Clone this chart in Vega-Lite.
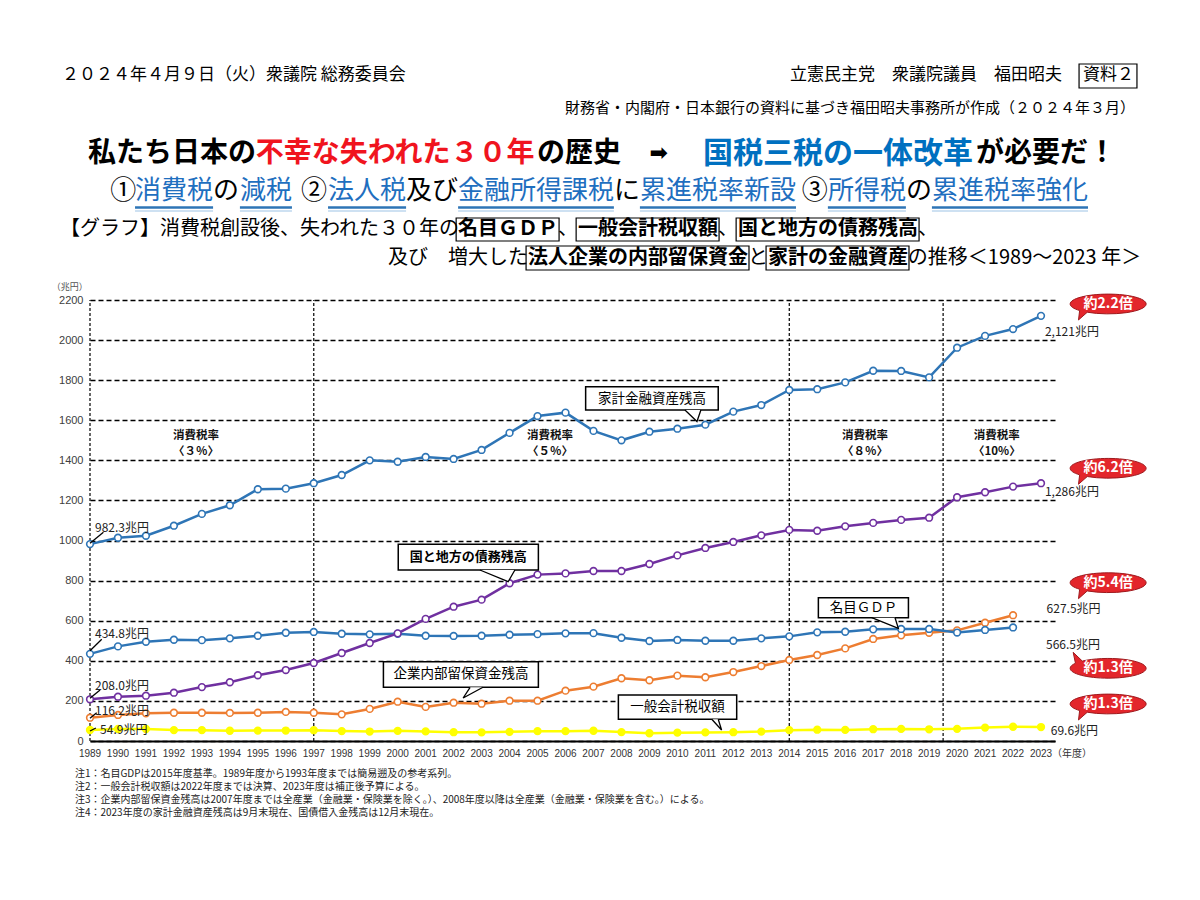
{
  "$schema": "https://vega.github.io/schema/vega-lite/v6.json",
  "autosize": {"type": "none"},
  "width": 965,
  "height": 441,
  "padding": {"left": 90, "top": 300, "right": 145, "bottom": 159},
  "background": "white",
  "config": {"view": {"stroke": null}, "font": "Noto Sans CJK JP"},
  "datasets": {
    "wide": [
      {"year": 1989, "household": 982.3, "debt": 208.0, "gdp": 434.8, "retained": 116.2, "tax": 54.9},
      {"year": 1990, "household": 1014, "debt": 221, "gdp": 472, "retained": 130, "tax": 60.1},
      {"year": 1991, "household": 1024, "debt": 226, "gdp": 495, "retained": 138, "tax": 59.8},
      {"year": 1992, "household": 1074, "debt": 241, "gdp": 505, "retained": 141, "tax": 54.4},
      {"year": 1993, "household": 1133, "debt": 269, "gdp": 503, "retained": 141, "tax": 54.1},
      {"year": 1994, "household": 1176, "debt": 293, "gdp": 512, "retained": 140, "tax": 51.0},
      {"year": 1995, "household": 1256, "debt": 328, "gdp": 525, "retained": 141, "tax": 51.9},
      {"year": 1996, "household": 1259, "debt": 354, "gdp": 540, "retained": 145, "tax": 52.1},
      {"year": 1997, "household": 1286, "debt": 389, "gdp": 544, "retained": 141, "tax": 53.9},
      {"year": 1998, "household": 1327, "debt": 439, "gdp": 535, "retained": 133, "tax": 49.4},
      {"year": 1999, "household": 1400, "debt": 489, "gdp": 532, "retained": 160, "tax": 47.2},
      {"year": 2000, "household": 1393, "debt": 537, "gdp": 535, "retained": 196, "tax": 50.7},
      {"year": 2001, "household": 1417, "debt": 609, "gdp": 525, "retained": 170, "tax": 47.9},
      {"year": 2002, "household": 1407, "debt": 670, "gdp": 524, "retained": 191, "tax": 43.8},
      {"year": 2003, "household": 1452, "debt": 705, "gdp": 525, "retained": 186, "tax": 43.3},
      {"year": 2004, "household": 1537, "debt": 787, "gdp": 530, "retained": 201, "tax": 45.6},
      {"year": 2005, "household": 1621, "debt": 830, "gdp": 533, "retained": 201, "tax": 49.1},
      {"year": 2006, "household": 1638, "debt": 836, "gdp": 537, "retained": 251, "tax": 49.1},
      {"year": 2007, "household": 1547, "debt": 848, "gdp": 538, "retained": 271, "tax": 51.0},
      {"year": 2008, "household": 1500, "debt": 848, "gdp": 515, "retained": 313, "tax": 44.3},
      {"year": 2009, "household": 1543, "debt": 883, "gdp": 499, "retained": 303, "tax": 38.7},
      {"year": 2010, "household": 1558, "debt": 926, "gdp": 504, "retained": 326, "tax": 41.5},
      {"year": 2011, "household": 1578, "debt": 963, "gdp": 500, "retained": 318, "tax": 42.8},
      {"year": 2012, "household": 1643, "debt": 993, "gdp": 500, "retained": 344, "tax": 43.9},
      {"year": 2013, "household": 1676, "debt": 1026, "gdp": 512, "retained": 374, "tax": 47.0},
      {"year": 2014, "household": 1751, "debt": 1053, "gdp": 522, "retained": 404, "tax": 54.0},
      {"year": 2015, "household": 1755, "debt": 1049, "gdp": 542, "retained": 429, "tax": 56.3},
      {"year": 2016, "household": 1789, "debt": 1071, "gdp": 545, "retained": 462, "tax": 55.5},
      {"year": 2017, "household": 1847, "debt": 1088, "gdp": 557, "retained": 509, "tax": 58.8},
      {"year": 2018, "household": 1846, "debt": 1103, "gdp": 559, "retained": 527, "tax": 60.4},
      {"year": 2019, "household": 1814, "debt": 1114, "gdp": 559, "retained": 540, "tax": 58.4},
      {"year": 2020, "household": 1962, "debt": 1216, "gdp": 541, "retained": 552, "tax": 60.8},
      {"year": 2021, "household": 2021, "debt": 1241, "gdp": 554, "retained": 590, "tax": 67.0},
      {"year": 2022, "household": 2055, "debt": 1269, "gdp": 566.5, "retained": 627.5, "tax": 71.1},
      {"year": 2023, "household": 2121, "debt": 1286, "gdp": null, "retained": null, "tax": 69.6}
    ],
    "dividers": [{"year": 1989}, {"year": 1997}, {"year": 2014}, {"year": 2019.5}],
    "hdr": [
      {"label": "２０２４年４月９日（火）衆議院 総務委員会", "year": 1988.0, "value": 3322.5},
      {"label": "立憲民主党　衆議院議員　福田昭夫", "year": 2014.03, "value": 3322.5},
      {"label": "資料２", "year": 2024.50, "value": 3322.5}
    ],
    "src": [
      {"label": "財務省・内閣府・日本銀行の資料に基づき福田昭夫事務所が作成（２０２４年３月）", "year": 2026.36, "value": 3157.8}
    ],
    "title": [
      {"label": "私たち日本の", "year": 1988.93, "value": 2928.4, "role": "plain"},
      {"label": "不幸な失われた３０年", "year": 1994.93, "value": 2928.4, "role": "alarm"},
      {"label": "の歴史", "year": 2004.98, "value": 2928.4, "role": "plain"},
      {"label": "が必要だ！", "year": 2020.68, "value": 2928.4, "role": "plain"}
    ],
    "titleBlue": [
      {"label": "国税三税の一体改革", "year": 2010.92, "value": 2928.4}
    ],
    "arrow": [{"label": "➡", "year": 2009.0, "value": 2933.4}],
    "policy": [
      {"label": "①", "year": 1989.72, "value": 2743.8, "role": "plain"},
      {"label": "消費税", "year": 1990.61, "value": 2743.8, "role": "policy"},
      {"label": "の", "year": 1993.40, "value": 2743.8, "role": "plain"},
      {"label": "減税", "year": 1994.36, "value": 2743.8, "role": "policy"},
      {"label": "②", "year": 1996.54, "value": 2743.8, "role": "plain"},
      {"label": "法人税", "year": 1997.51, "value": 2743.8, "role": "policy"},
      {"label": "及び", "year": 2000.30, "value": 2743.8, "role": "plain"},
      {"label": "金融所得課税", "year": 2002.16, "value": 2743.8, "role": "policy"},
      {"label": "に", "year": 2007.73, "value": 2743.8, "role": "plain"},
      {"label": "累進税率新設", "year": 2008.66, "value": 2743.8, "role": "policy"},
      {"label": "③", "year": 2014.45, "value": 2743.8, "role": "plain"},
      {"label": "所得税", "year": 2015.38, "value": 2743.8, "role": "policy"},
      {"label": "の", "year": 2018.17, "value": 2743.8, "role": "plain"},
      {"label": "累進税率強化", "year": 2019.10, "value": 2743.8, "role": "policy"}
    ],
    "underline": [
      {"year": 1990.61, "year2": 1993.40},
      {"year": 1994.36, "year2": 1996.22},
      {"year": 1997.51, "year2": 2000.30},
      {"year": 2002.16, "year2": 2007.73},
      {"year": 2008.66, "year2": 2014.24},
      {"year": 2015.38, "year2": 2018.17},
      {"year": 2019.10, "year2": 2024.68}
    ],
    "intro": [
      {"label": "【グラフ】消費税創設後、失われた３０年の", "year": 1987.93, "value": 2554.2},
      {"label": "、", "year": 2005.73, "value": 2554.2},
      {"label": "、", "year": 2011.45, "value": 2554.2},
      {"label": "、", "year": 2018.60, "value": 2554.2},
      {"label": "及び　増大した", "year": 1999.65, "value": 2409.5},
      {"label": "と", "year": 2012.52, "value": 2409.5},
      {"label": "の推移＜1989～2023 年＞", "year": 2018.24, "value": 2409.5}
    ],
    "introBold": [
      {"label": "名目ＧＤＰ", "year": 2002.16, "value": 2554.2},
      {"label": "一般会計税収額", "year": 2006.45, "value": 2554.2},
      {"label": "国と地方の債務残高", "year": 2012.17, "value": 2554.2},
      {"label": "法人企業の内部留保資金", "year": 2004.66, "value": 2409.5},
      {"label": "家計の金融資産", "year": 2013.24, "value": 2409.5}
    ],
    "introBox": [
      {"year": 2002.09, "year2": 2005.77, "value": 2609.1, "value2": 2494.4},
      {"year": 2006.38, "year2": 2011.49, "value": 2609.1, "value2": 2494.4},
      {"year": 2012.10, "year2": 2018.64, "value": 2609.1, "value2": 2494.4},
      {"year": 2004.59, "year2": 2012.56, "value": 2469.4, "value2": 2349.7},
      {"year": 2013.17, "year2": 2018.28, "value": 2469.4, "value2": 2349.7},
      {"year": 2024.36, "year2": 2026.43, "value": 3377.4, "value2": 3257.6}
    ],
    "callBox": [
      {"year": 2006.72, "year2": 2011.46, "value": 1767.5, "value2": 1651.3},
      {"year": 2000.02, "year2": 2005.03, "value": 981.3, "value2": 853.1},
      {"year": 1999.49, "year2": 2005.03, "value": 395.6, "value2": 267.9},
      {"year": 2007.89, "year2": 2012.12, "value": 229.5, "value2": 108.3},
      {"year": 2015.04, "year2": 2018.26, "value": 714.9, "value2": 615.1}
    ],
    "callText": [
      {"label": "家計金融資産残高", "year": 2009.09, "value": 1708.6},
      {"label": "企業内部留保資金残高", "year": 2002.26, "value": 331.8},
      {"label": "一般会計税収額", "year": 2010.0, "value": 169.6},
      {"label": "名目ＧＤＰ", "year": 2016.65, "value": 665.0}
    ],
    "callTextBold": [
      {"label": "国と地方の債務残高", "year": 2002.52, "value": 917.9}
    ],
    "tails": [
      {"id": "a", "ord": 1, "year": 2010.27, "value": 1651.3},
      {"id": "a", "ord": 2, "year": 2010.70, "value": 1593.9},
      {"id": "a", "ord": 3, "year": 2010.84, "value": 1651.3},
      {"id": "b", "ord": 1, "year": 2002.94, "value": 853.1},
      {"id": "b", "ord": 2, "year": 2003.95, "value": 794.7},
      {"id": "b", "ord": 3, "year": 2004.19, "value": 853.1},
      {"id": "c", "ord": 1, "year": 2003.05, "value": 267.9},
      {"id": "c", "ord": 2, "year": 2002.34, "value": 214.5},
      {"id": "c", "ord": 3, "year": 2002.59, "value": 267.9},
      {"id": "d", "ord": 1, "year": 2011.23, "value": 108.3},
      {"id": "d", "ord": 2, "year": 2011.58, "value": 54.9},
      {"id": "d", "ord": 3, "year": 2011.46, "value": 108.3},
      {"id": "e", "ord": 1, "year": 2016.95, "value": 615.1},
      {"id": "e", "ord": 2, "year": 2017.90, "value": 562.2},
      {"id": "e", "ord": 3, "year": 2017.78, "value": 615.1}
    ],
    "leaders": [
      {"year": 1989.48, "value": 1041.1, "year2": 1989, "value2": 986.3},
      {"year": 1989.42, "value": 507.3, "year2": 1989, "value2": 450.5},
      {"year": 1989.36, "value": 254.4, "year2": 1989, "value2": 213.0},
      {"year": 1989.24, "value": 141.2, "year2": 1989, "value2": 113.2},
      {"year": 1989.21, "value": 64.9, "year2": 1989, "value2": 49.9}
    ],
    "valueLabels": [
      {"label": "982.3兆円", "year": 1989.18, "value": 1064.3},
      {"label": "434.8兆円", "year": 1989.18, "value": 532.2},
      {"label": "208.0兆円", "year": 1989.18, "value": 274.4},
      {"label": "116.2兆円", "year": 1989.18, "value": 149.7},
      {"label": "54.9兆円", "year": 1989.36, "value": 54.9},
      {"label": "2,121兆円", "year": 2023.14, "value": 2038.9},
      {"label": "1,286兆円", "year": 2023.14, "value": 1240.5},
      {"label": "627.5兆円", "year": 2023.20, "value": 656.8},
      {"label": "566.5兆円", "year": 2023.18, "value": 478.9},
      {"label": "69.6兆円", "year": 2023.35, "value": 49.9}
    ],
    "rates": [
      {"label": "消費税率", "year": 1992.79, "value": 1521.6},
      {"label": "〈３％〉", "year": 1992.79, "value": 1441.2},
      {"label": "消費税率", "year": 2005.45, "value": 1521.6},
      {"label": "〈５％〉", "year": 2005.45, "value": 1441.2},
      {"label": "消費税率", "year": 2016.71, "value": 1521.6},
      {"label": "〈８％〉", "year": 2016.71, "value": 1441.2},
      {"label": "消費税率", "year": 2021.42, "value": 1521.6},
      {"label": "〈10%〉", "year": 2021.42, "value": 1441.2}
    ],
    "balloons": [
      {"label": "約2.2倍", "year": 2025.40, "value": 2180.1, "dir": "down"},
      {"label": "約6.2倍", "year": 2025.40, "value": 1360.4, "dir": "down"},
      {"label": "約5.4倍", "year": 2025.40, "value": 789.7, "dir": "down"},
      {"label": "約1.3倍", "year": 2025.40, "value": 362.7, "dir": "up"},
      {"label": "約1.3倍", "year": 2025.40, "value": 184.6, "dir": "down"}
    ],
    "years": [
      {"year": 1989}, {"year": 1990}, {"year": 1991}, {"year": 1992}, {"year": 1993}, {"year": 1994}, {"year": 1995},
      {"year": 1996}, {"year": 1997}, {"year": 1998}, {"year": 1999}, {"year": 2000}, {"year": 2001}, {"year": 2002},
      {"year": 2003}, {"year": 2004}, {"year": 2005}, {"year": 2006}, {"year": 2007}, {"year": 2008}, {"year": 2009},
      {"year": 2010}, {"year": 2011}, {"year": 2012}, {"year": 2013}, {"year": 2014}, {"year": 2015}, {"year": 2016},
      {"year": 2017}, {"year": 2018}, {"year": 2019}, {"year": 2020}, {"year": 2021}, {"year": 2022}, {"year": 2023}
    ],
    "units": [
      {"label": "（兆円）", "year": 1988.28, "value": 2264.9}
    ],
    "unitsX": [
      {"label": "（年度）", "year": 2023.39, "value": -64.9}
    ],
    "notes": [
      {"label": "注1：名目GDPは2015年度基準。1989年度から1993年度までは簡易遡及の参考系列。", "year": 1988.46, "value": -164.6},
      {"label": "注2：一般会計税収額は2022年度までは決算、2023年度は補正後予算による。", "year": 1988.46, "value": -229.5},
      {"label": "注3：企業内部留保資金残高は2007年度までは全産業（金融業・保険業を除く。）、2008年度以降は全産業（金融業・保険業を含む。）による。", "year": 1988.46, "value": -294.3},
      {"label": "注4：2023年度の家計金融資産残高は9月末現在、国債借入金残高は12月末現在。", "year": 1988.46, "value": -359.2}
    ]
  },
  "resolve": {"scale": {"color": "independent", "fill": "independent", "stroke": "independent", "shape": "independent"}},
  "layer": [
    {
      "data": {"name": "dividers"},
      "mark": {"type": "rule", "color": "black", "strokeWidth": 1.2, "strokeDash": [3, 2]},
      "encoding": {
        "x": {"field": "year", "type": "quantitative", "scale": {"domain": [1989, 2023.5], "nice": false, "zero": false},
          "axis": {"title": null, "labels": false, "grid": false, "ticks": false, "domainColor": "black", "domainWidth": 2}},
        "y": {"datum": 0, "type": "quantitative", "scale": {"domain": [0, 2200], "nice": false},
          "axis": {"title": null, "format": "d", "values": [0,200,400,600,800,1000,1200,1400,1600,1800,2000,2200], "grid": true, "gridColor": "black",
            "gridDash": [5, 3], "gridWidth": 1.3, "domain": false, "ticks": false, "labelPadding": 7, "labelFontSize": 11,
            "labelColor": "#404040", "labelFont": "Liberation Sans"}},
        "y2": {"datum": 2200}
      }
    },
    {
      "data": {"name": "wide"},
      "transform": [{"fold": ["tax", "retained", "gdp", "debt", "household"], "as": ["series", "value"]}],
      "mark": {"type": "line", "strokeWidth": 2.5},
      "encoding": {
        "x": {"field": "year", "type": "quantitative"},
        "y": {"field": "value", "type": "quantitative"},
        "color": {"field": "series", "type": "nominal", "legend": null,
          "scale": {"domain": ["household", "debt", "gdp", "retained", "tax"], "range": ["#2E75B6", "#7030A0", "#2E75B6", "#ED7D31", "#FFFF00"]}}
      }
    },
    {
      "data": {"name": "wide"},
      "transform": [{"fold": ["tax", "retained", "gdp", "debt", "household"], "as": ["series", "value"]}],
      "mark": {"type": "point", "shape": "circle", "size": 45, "strokeWidth": 1.6, "opacity": 1},
      "encoding": {
        "x": {"field": "year", "type": "quantitative"},
        "y": {"field": "value", "type": "quantitative"},
        "stroke": {"field": "series", "type": "nominal", "legend": null,
          "scale": {"domain": ["household", "debt", "gdp", "retained", "tax"], "range": ["#2E75B6", "#7030A0", "#2E75B6", "#ED7D31", "#FFFF00"]}},
        "fill": {"field": "series", "type": "nominal", "legend": null,
          "scale": {"domain": ["household", "debt", "gdp", "retained", "tax"], "range": ["white", "white", "white", "white", "#FFFF00"]}}
      }
    },
    {
      "data": {"name": "years"},
      "mark": {"type": "text", "align": "center", "baseline": "middle", "fontSize": 10, "color": "#333333", "font": "Liberation Sans Narrow, Liberation Sans"},
      "encoding": {
        "x": {"field": "year", "type": "quantitative"},
        "y": {"datum": -64.9, "type": "quantitative"},
        "text": {"field": "year", "type": "quantitative", "format": "d"}
      }
    },
    {
      "data": {"name": "leaders"},
      "mark": {"type": "rule", "color": "black", "strokeWidth": 1.3},
      "encoding": {
        "x": {"field": "year", "type": "quantitative"},
        "y": {"field": "value", "type": "quantitative"},
        "x2": {"field": "year2"},
        "y2": {"field": "value2"}
      }
    },
    {
      "data": {"name": "valueLabels"},
      "mark": {"type": "text", "align": "left", "baseline": "middle", "fontSize": 12, "color": "#222222"},
      "encoding": {
        "x": {"field": "year", "type": "quantitative"},
        "y": {"field": "value", "type": "quantitative"},
        "text": {"field": "label"}
      }
    },
    {
      "data": {"name": "rates"},
      "mark": {"type": "text", "align": "center", "baseline": "middle", "fontSize": 11.5, "fontWeight": "bold", "color": "#111111"},
      "encoding": {
        "x": {"field": "year", "type": "quantitative"},
        "y": {"field": "value", "type": "quantitative"},
        "text": {"field": "label"}
      }
    },
    {
      "data": {"name": "callBox"},
      "mark": {"type": "rect", "fill": "#555555", "xOffset": 2, "yOffset": 2},
      "encoding": {
        "x": {"field": "year", "type": "quantitative"},
        "x2": {"field": "year2"},
        "y": {"field": "value", "type": "quantitative"},
        "y2": {"field": "value2"}
      }
    },
    {
      "data": {"name": "callBox"},
      "mark": {"type": "rect", "fill": "white", "stroke": "black", "strokeWidth": 1.5},
      "encoding": {
        "x": {"field": "year", "type": "quantitative"},
        "x2": {"field": "year2"},
        "y": {"field": "value", "type": "quantitative"},
        "y2": {"field": "value2"}
      }
    },
    {
      "data": {"name": "tails"},
      "mark": {"type": "line", "color": "black", "fill": "white", "strokeWidth": 1.3},
      "encoding": {
        "x": {"field": "year", "type": "quantitative"},
        "y": {"field": "value", "type": "quantitative"},
        "detail": {"field": "id"},
        "order": {"field": "ord"}
      }
    },
    {
      "data": {"name": "callText"},
      "mark": {"type": "text", "align": "center", "baseline": "middle", "fontSize": 13.5, "color": "black"},
      "encoding": {
        "x": {"field": "year", "type": "quantitative"},
        "y": {"field": "value", "type": "quantitative"},
        "text": {"field": "label"}
      }
    },
    {
      "data": {"name": "callTextBold"},
      "mark": {"type": "text", "align": "center", "baseline": "middle", "fontSize": 13, "fontWeight": "bold", "color": "black"},
      "encoding": {
        "x": {"field": "year", "type": "quantitative"},
        "y": {"field": "value", "type": "quantitative"},
        "text": {"field": "label"}
      }
    },
    {
      "data": {"name": "balloons"},
      "mark": {"type": "point", "filled": true, "size": 5776, "fill": "#E3262B", "stroke": "#9E1A1E", "strokeWidth": 1, "opacity": 1},
      "encoding": {
        "x": {"field": "year", "type": "quantitative"},
        "y": {"field": "value", "type": "quantitative"},
        "shape": {"field": "dir", "type": "nominal", "legend": null,
          "scale": {"domain": ["down", "up"], "range": [
            "M 1 0 A 1 0.26 0 0 1 -0.55 0.217 L -0.78 0.42 L -0.75 0.172 A 1 0.26 0 0 1 -1 0 A 1 0.26 0 0 1 0 -0.26 A 1 0.26 0 0 1 1 0 Z",
            "M 1 0 A 1 0.26 0 0 0 -0.68 -0.19 L -0.92 -0.42 L -0.86 -0.133 A 1 0.26 0 0 0 -1 0 A 1 0.26 0 0 0 0 0.26 A 1 0.26 0 0 0 1 0 Z"
          ]}}
      }
    },
    {
      "data": {"name": "balloons"},
      "mark": {"type": "text", "align": "center", "baseline": "middle", "fontSize": 14, "fontWeight": "bold", "color": "white"},
      "encoding": {
        "x": {"field": "year", "type": "quantitative"},
        "y": {"field": "value", "type": "quantitative"},
        "text": {"field": "label"}
      }
    },
    {
      "data": {"name": "units"},
      "mark": {"type": "text", "align": "center", "baseline": "middle", "fontSize": 9, "color": "#555555"},
      "encoding": {
        "x": {"field": "year", "type": "quantitative"},
        "y": {"field": "value", "type": "quantitative"},
        "text": {"field": "label"}
      }
    },
    {
      "data": {"name": "unitsX"},
      "mark": {"type": "text", "align": "left", "baseline": "middle", "fontSize": 10, "color": "#333333"},
      "encoding": {
        "x": {"field": "year", "type": "quantitative"},
        "y": {"field": "value", "type": "quantitative"},
        "text": {"field": "label"}
      }
    },
    {
      "data": {"name": "notes"},
      "mark": {"type": "text", "align": "left", "baseline": "middle", "fontSize": 10, "color": "#222222"},
      "encoding": {
        "x": {"field": "year", "type": "quantitative"},
        "y": {"field": "value", "type": "quantitative"},
        "text": {"field": "label"}
      }
    },
    {
      "data": {"name": "hdr"},
      "mark": {"type": "text", "align": "left", "baseline": "middle", "fontSize": 17, "color": "black"},
      "encoding": {
        "x": {"field": "year", "type": "quantitative"},
        "y": {"field": "value", "type": "quantitative"},
        "text": {"field": "label"}
      }
    },
    {
      "data": {"name": "src"},
      "mark": {"type": "text", "align": "right", "baseline": "middle", "fontSize": 15, "color": "black"},
      "encoding": {
        "x": {"field": "year", "type": "quantitative"},
        "y": {"field": "value", "type": "quantitative"},
        "text": {"field": "label"}
      }
    },
    {
      "data": {"name": "title"},
      "mark": {"type": "text", "align": "left", "baseline": "middle", "fontSize": 28, "fontWeight": "bold"},
      "encoding": {
        "x": {"field": "year", "type": "quantitative"},
        "y": {"field": "value", "type": "quantitative"},
        "text": {"field": "label"},
        "color": {"field": "role", "type": "nominal", "legend": null,
          "scale": {"domain": ["plain", "alarm"], "range": ["#000000", "#F0141E"]}}
      }
    },
    {
      "data": {"name": "titleBlue"},
      "mark": {"type": "text", "align": "left", "baseline": "middle", "fontSize": 30, "fontWeight": "bold", "color": "#0070C0"},
      "encoding": {
        "x": {"field": "year", "type": "quantitative"},
        "y": {"field": "value", "type": "quantitative"},
        "text": {"field": "label"}
      }
    },
    {
      "data": {"name": "arrow"},
      "mark": {"type": "text", "align": "left", "baseline": "middle", "fontSize": 22, "fontWeight": "bold", "color": "black", "font": "DejaVu Sans"},
      "encoding": {
        "x": {"field": "year", "type": "quantitative"},
        "y": {"field": "value", "type": "quantitative"},
        "text": {"field": "label"}
      }
    },
    {
      "data": {"name": "policy"},
      "mark": {"type": "text", "align": "left", "baseline": "middle", "fontSize": 26},
      "encoding": {
        "x": {"field": "year", "type": "quantitative"},
        "y": {"field": "value", "type": "quantitative"},
        "text": {"field": "label"},
        "color": {"field": "role", "type": "nominal", "legend": null,
          "scale": {"domain": ["plain", "policy"], "range": ["#000000", "#1F6FBF"]}}
      }
    },
    {
      "data": {"name": "underline"},
      "mark": {"type": "rule", "color": "#2E75B6", "strokeWidth": 2.5},
      "encoding": {
        "x": {"field": "year", "type": "quantitative"},
        "x2": {"field": "year2"},
        "y": {"datum": 2661.5, "type": "quantitative"}
      }
    },
    {
      "data": {"name": "underline"},
      "mark": {"type": "rule", "color": "#9DC3E6", "strokeWidth": 1.2},
      "encoding": {
        "x": {"field": "year", "type": "quantitative"},
        "x2": {"field": "year2"},
        "y": {"datum": 2644.0, "type": "quantitative"}
      }
    },
    {
      "data": {"name": "introBox"},
      "mark": {"type": "rect", "fill": "transparent", "stroke": "black", "strokeWidth": 1.2},
      "encoding": {
        "x": {"field": "year", "type": "quantitative"},
        "x2": {"field": "year2"},
        "y": {"field": "value", "type": "quantitative"},
        "y2": {"field": "value2"}
      }
    },
    {
      "data": {"name": "intro"},
      "mark": {"type": "text", "align": "left", "baseline": "middle", "fontSize": 20, "color": "black"},
      "encoding": {
        "x": {"field": "year", "type": "quantitative"},
        "y": {"field": "value", "type": "quantitative"},
        "text": {"field": "label"}
      }
    },
    {
      "data": {"name": "introBold"},
      "mark": {"type": "text", "align": "left", "baseline": "middle", "fontSize": 20, "fontWeight": "bold", "color": "black"},
      "encoding": {
        "x": {"field": "year", "type": "quantitative"},
        "y": {"field": "value", "type": "quantitative"},
        "text": {"field": "label"}
      }
    }
  ]
}
